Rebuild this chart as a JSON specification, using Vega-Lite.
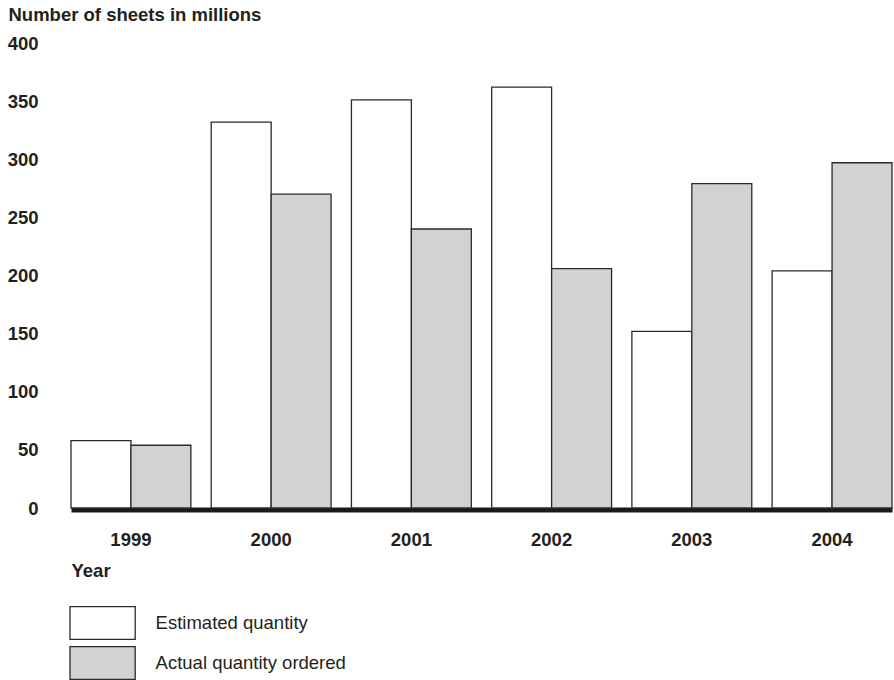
{
  "$schema": "https://vega.github.io/schema/vega-lite/v6.json",
  "width": 821,
  "height": 465,
  "autosize": {"type": "none"},
  "padding": {"left": 71, "top": 43, "right": 2, "bottom": 172},
  "background": "white",
  "config": {"view": {"stroke": null}, "font": "Liberation Sans"},
  "data": {
    "values": [
      {"year": "1999", "series": "Estimated quantity", "value": 58},
      {"year": "1999", "series": "Actual quantity ordered", "value": 54},
      {"year": "2000", "series": "Estimated quantity", "value": 332},
      {"year": "2000", "series": "Actual quantity ordered", "value": 270},
      {"year": "2001", "series": "Estimated quantity", "value": 351},
      {"year": "2001", "series": "Actual quantity ordered", "value": 240},
      {"year": "2002", "series": "Estimated quantity", "value": 362},
      {"year": "2002", "series": "Actual quantity ordered", "value": 206},
      {"year": "2003", "series": "Estimated quantity", "value": 152},
      {"year": "2003", "series": "Actual quantity ordered", "value": 279},
      {"year": "2004", "series": "Estimated quantity", "value": 204},
      {"year": "2004", "series": "Actual quantity ordered", "value": 297}
    ]
  },
  "mark": {"type": "bar", "stroke": "#2b2b2b", "strokeWidth": 1.3},
  "encoding": {
    "x": {
      "field": "year",
      "type": "ordinal",
      "scale": {"paddingInner": 0.145, "paddingOuter": 0},
      "axis": {
        "title": "Year",
        "labelAngle": 0,
        "ticks": false,
        "tickSize": 0,
        "grid": false,
        "domainWidth": 5,
        "domainColor": "#1a1a1a",
        "offset": 1.5,
        "labelPadding": 21,
        "labelFontSize": 18.5,
        "labelFontWeight": "bold",
        "labelColor": "#231f20",
        "labelBaseline": "top",
        "titleFontSize": 18.5,
        "titleFontWeight": "bold",
        "titleColor": "#231f20",
        "titleAnchor": "start",
        "titleAlign": "left",
        "titleBaseline": "alphabetic",
        "titleX": 0,
        "titleY": 66.5
      }
    },
    "xOffset": {
      "field": "series",
      "type": "nominal",
      "sort": ["Estimated quantity", "Actual quantity ordered"],
      "scale": {"paddingInner": 0, "paddingOuter": 0}
    },
    "y": {
      "field": "value",
      "type": "quantitative",
      "scale": {"domain": [0, 400], "nice": false},
      "axis": {
        "title": "Number of sheets in millions",
        "values": [0, 50, 100, 150, 200, 250, 300, 350, 400],
        "domain": false,
        "ticks": false,
        "tickSize": 0,
        "grid": false,
        "labelPadding": 33,
        "labelFontSize": 18.5,
        "labelFontWeight": "bold",
        "labelColor": "#231f20",
        "titleAngle": 0,
        "titleAlign": "left",
        "titleBaseline": "alphabetic",
        "titleX": -63,
        "titleY": -22.3,
        "titleFontSize": 18.5,
        "titleFontWeight": "bold",
        "titleColor": "#231f20"
      }
    },
    "fill": {
      "field": "series",
      "type": "nominal",
      "scale": {
        "domain": ["Estimated quantity", "Actual quantity ordered"],
        "range": ["#ffffff", "#d1d2d4"]
      },
      "legend": {
        "title": null,
        "orient": "none",
        "legendX": 14.6,
        "legendY": 563,
        "direction": "vertical",
        "padding": 0,
        "symbolType": "M-2,-1H2V1H-2Z",
        "symbolSize": 1063,
        "symbolStrokeColor": "#2b2b2b",
        "symbolStrokeWidth": 1.3,
        "symbolOpacity": 1,
        "labelFontSize": 18.5,
        "labelColor": "#231f20",
        "labelOffset": 36,
        "labelLimit": 400,
        "rowPadding": 2
      }
    }
  }
}
